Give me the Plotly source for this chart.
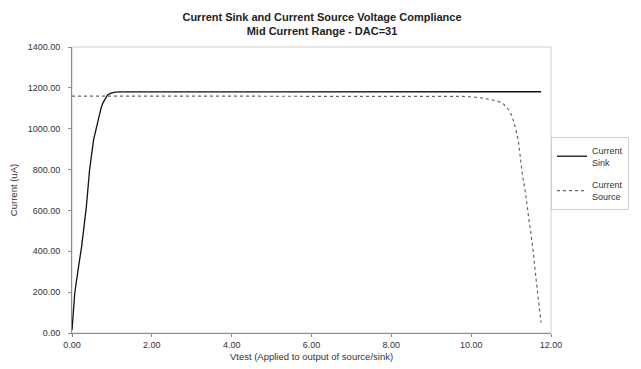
import plotly.graph_objects as go

# Current Sink data (Vtest in V, current in uA)
sink_v = [0.0, 0.07, 0.16, 0.24, 0.36, 0.44, 0.54, 0.65, 0.72, 0.77, 0.83, 0.89, 0.95, 1.05, 1.2,
          1.5, 2.0, 3.0, 4.0, 5.0, 6.0, 7.0, 8.0, 9.0, 10.0, 11.0, 11.75]
sink_i = [15, 196, 320, 422, 618, 798, 945, 1043, 1095, 1124, 1148, 1165, 1172, 1178, 1180,
          1180, 1181, 1181, 1181, 1181, 1181, 1181, 1181, 1181, 1181, 1181, 1181]

# Current Source data
source_v = [0.0, 1.0, 2.0, 4.0, 6.0, 8.0, 9.0, 9.8, 10.1, 10.34, 10.54, 10.67, 10.81, 10.91,
            11.01, 11.08, 11.14, 11.18, 11.24, 11.28, 11.36, 11.42, 11.48, 11.55, 11.61,
            11.69, 11.75]
source_i = [1160, 1160, 1160, 1160, 1160, 1160, 1160, 1158, 1154, 1149, 1140, 1135, 1121, 1100,
            1067, 1026, 977, 945, 847, 782, 684, 602, 504, 406, 292, 161, 50]

x_ticks = [0, 2, 4, 6, 8, 10, 12]
y_ticks = [0, 200, 400, 600, 800, 1000, 1200, 1400]

FONT = "Liberation Sans, Arial, sans-serif"

W, H = 633, 361

fig = go.Figure()
fig.add_trace(go.Scatter(x=sink_v, y=sink_i, mode="lines", name="Current<br>Sink",
                         legendgroup="sink",
                         line=dict(color="#111111", width=1.3)))
fig.add_trace(go.Scatter(x=source_v, y=source_i, mode="lines", name="Current<br>Source",
                         legendgroup="source",
                         line=dict(color="#666666", width=1.2, dash="dot")))

fig.update_layout(
    width=W, height=H,
    margin=dict(l=64, r=80, t=39, b=36),
    paper_bgcolor="white", plot_bgcolor="white",
    font=dict(family=FONT, size=9, color="#333333"),
    title=dict(text="<b>Current Sink and Current Source Voltage Compliance<br>Mid Current Range - DAC=31</b>",
               x=(322 - 8) / W, xanchor="center", y=1 - 13 / H, yanchor="top", yref="container",
               font=dict(family=FONT, size=11, color="#222222")),
    legend=dict(x=1.0, xanchor="left", y=(325 - 129) / 286, yanchor="top",
                bordercolor="#d0d0d0", borderwidth=1, bgcolor="white",
                font=dict(family=FONT, size=9, color="#333333"),
                traceorder="grouped", tracegroupgap=8),
    xaxis=dict(range=[0, 12], tickvals=x_ticks, ticktext=["%.2f" % v for v in x_ticks],
               showgrid=False, zeroline=False, showline=True, linecolor="#8a8a8a", linewidth=1,
               ticks="outside", ticklen=3, tickcolor="#8a8a8a", automargin=False,
               title=dict(text="Vtest (Applied to output of source/sink)", standoff=4,
                          font=dict(family=FONT, size=9.5))),
    yaxis=dict(range=[0, 1400], tickvals=y_ticks, ticktext=["%.2f" % v for v in y_ticks],
               showgrid=False, zeroline=False, showline=True, linecolor="#8a8a8a", linewidth=1,
               ticks="outside", ticklen=3, tickcolor="#8a8a8a", ticklabelstandoff=6,
               automargin=False,
               title=dict(text="Current (uA)", standoff=10,
                          font=dict(family=FONT, size=9.5))),
    shapes=[dict(type="rect", xref="paper", yref="paper", x0=0, x1=1, y0=0, y1=1,
                 line=dict(color="#d0d0d0", width=1), layer="below")],
)

fig.write_html("out.html")
